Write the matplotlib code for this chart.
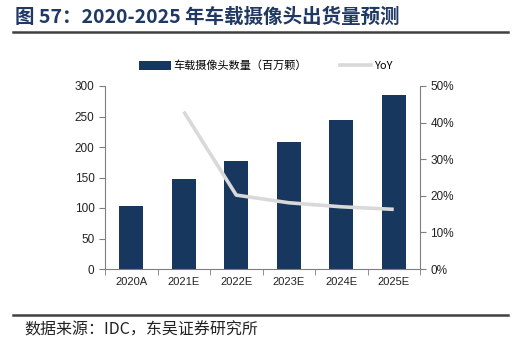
import matplotlib.pyplot as plt
from matplotlib.lines import Line2D
from matplotlib.patches import Patch
from matplotlib.ticker import PercentFormatter, FixedLocator

plt.rcParams['font.family'] = ['Liberation Sans', 'Noto Sans CJK SC', 'DejaVu Sans']

years = ['2020A', '2021E', '2022E', '2023E', '2024E', '2025E']
shipments = [104, 147, 176.5, 209, 245, 284.5]   # 百万颗
yoy_years = ['2021E', '2022E', '2023E', '2024E', '2025E']
yoy = [43.0, 20.2, 18.1, 17.0, 16.3]              # %

bar_color = '#17375e'
line_color = '#d9d9d9'
cjk = ['Noto Sans CJK SC', 'DejaVu Sans']

fig = plt.figure(figsize=(5.32, 3.49), dpi=100)
ax = fig.add_axes([105 / 532, 1 - 269 / 349, 315 / 532, 183 / 349])
ax2 = ax.twinx()

x = list(range(len(years)))
ax.bar(x, shipments, width=0.46, color=bar_color, zorder=2)
ax2.plot([years.index(y) for y in yoy_years], yoy, color=line_color, lw=2.6, zorder=3,
         solid_capstyle='butt')

ax.set_xlim(-0.5, len(years) - 0.5)
ax.set_ylim(0, 300)
ax.set_yticks(range(0, 301, 50))
ax2.set_ylim(0, 50)
ax2.set_yticks(range(0, 51, 10))
ax2.yaxis.set_major_formatter(PercentFormatter(decimals=0))

ax.set_xticks(x)
ax.set_xticklabels(years)
ax.xaxis.set_minor_locator(FixedLocator([i + 0.5 for i in range(-1, len(years))]))
ax.tick_params(axis='x', which='major', length=0, labelsize=8, pad=6, colors='#222222')
ax.tick_params(axis='x', which='minor', length=4, color='#7f7f7f')
ax.tick_params(axis='y', length=4, labelsize=8.5, color='#7f7f7f', labelcolor='#222222')
ax2.tick_params(axis='y', length=4, labelsize=8.5, color='#7f7f7f', labelcolor='#222222')

for a in (ax, ax2):
    a.spines['top'].set_visible(False)
    for s in ('left', 'right', 'bottom'):
        a.spines[s].set_color('#7f7f7f')
        a.spines[s].set_linewidth(0.8)
ax.spines['right'].set_visible(False)
ax2.spines['left'].set_visible(False)
ax2.spines['bottom'].set_visible(False)
ax2.set_zorder(ax.get_zorder() + 1)
ax2.patch.set_visible(False)

handles = [Patch(facecolor=bar_color, label='车载摄像头数量（百万颗）'),
           Line2D([], [], color=line_color, lw=2.6, label='YoY')]
fig.legend(handles=handles, loc='center', bbox_to_anchor=(0.5, 1 - 66 / 349), ncol=2,
           frameon=False, handlelength=2.8, handleheight=0.8,
           handletextpad=0.25, columnspacing=3.0,
           prop={'family': cjk, 'size': 8})

fig.text(15 / 532, 1 - 17 / 349, '图 57：2020-2025 年车载摄像头出货量预测',
         fontsize=14, fontweight='bold', color='#1f3864', va='center', family=cjk)
fig.add_artist(Line2D([13 / 532, 508 / 532], [1 - 32 / 349] * 2, color='#404040', lw=1.8))
fig.add_artist(Line2D([13 / 532, 508 / 532], [1 - 315 / 349] * 2, color='#404040', lw=1.8))
fig.text(24 / 532, 1 - 330 / 349, '数据来源：IDC，东吴证券研究所', fontsize=11.5,
         color='#222222', va='center', family=cjk)

fig.savefig('out.png', dpi=100)
